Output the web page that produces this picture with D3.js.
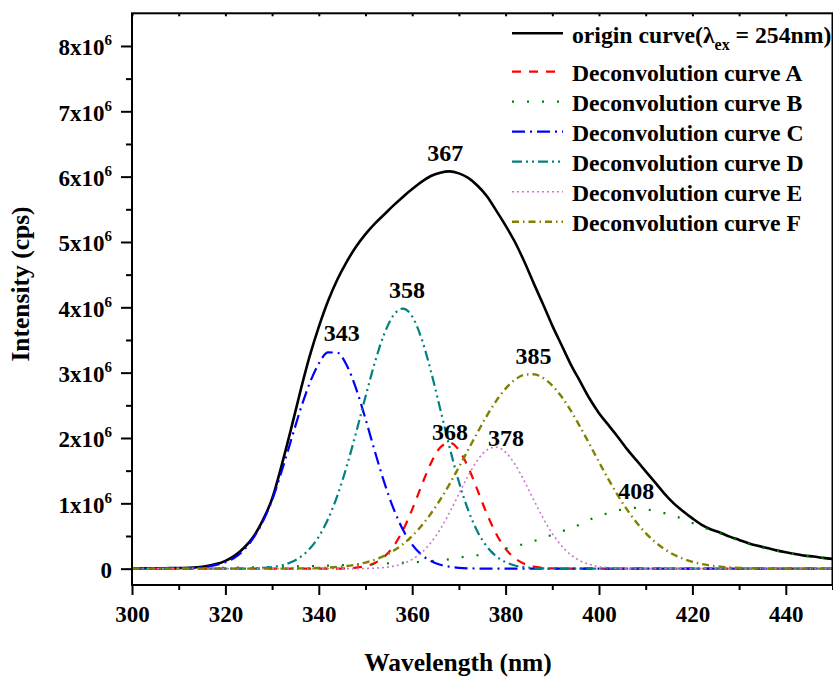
<!DOCTYPE html>
<html>
<head>
<meta charset="utf-8">
<script src="https://cdnjs.cloudflare.com/ajax/libs/d3/7.8.5/d3.min.js"></script>
<style>
  body { margin: 0; background: #fff; }
  svg { display: block; }
</style>
</head>
<body>
<svg id="chart" width="833" height="677"></svg>
<script>
// wavelength grid (nm), values in units of 10^6 cps
const wavelength = [300,302,304,306,308,310,312,314,316,318,320,322,324,326,328,330,332,334,336,338,
  340,342,344,346,348,350,352,354,356,358,360,362,364,366,368,370,372,374,376,378,
  380,382,384,386,388,390,392,394,396,398,400,402,404,406,408,410,412,414,416,418,
  420,422,424,426,428,430,432,434,436,438,440,442,444,446,448,450];

const originCurve = [0.005,0.005,0.006,0.007,0.008,0.010,0.014,0.022,0.04,0.07,0.12,0.20,0.32,0.49,0.74,1.07,1.57,2.12,2.70,3.24,
  3.70,4.10,4.43,4.70,4.93,5.12,5.28,5.42,5.56,5.69,5.81,5.92,6.01,6.06,6.08,6.05,5.98,5.86,5.70,5.48,
  5.25,5.00,4.70,4.37,4.05,3.72,3.42,3.12,2.86,2.60,2.38,2.20,2.02,1.83,1.66,1.49,1.32,1.15,1.00,0.88,
  0.77,0.67,0.60,0.55,0.49,0.44,0.39,0.35,0.315,0.28,0.25,0.225,0.20,0.185,0.165,0.15];

const curveA = [0,0,0,0,0,0,0,0,0,0,0,0,0,0,0,0,0,0,0,0,
  0,0,0,0.005,0.015,0.038,0.087,0.182,0.343,0.586,0.907,1.272,1.614,1.854,1.929,1.817,1.551,1.198,0.838,0.531,
  0.304,0.158,0.074,0.032,0.012,0.004,0,0,0,0,0,0,0,0,0,0,0,0,0,0,
  0,0,0,0,0,0,0,0,0,0,0,0,0,0,0,0];

const curveB = [0,0,0,0,0.005,0.005,0.008,0.01,0.01,0.012,0.014,0.016,0.018,0.02,0.022,0.025,0.028,0.031,0.035,0.039,
  0.043,0.047,0.052,0.057,0.062,0.067,0.072,0.078,0.084,0.09,0.097,0.105,0.115,0.128,0.145,0.168,0.19,0.205,0.23,0.27,
  0.31,0.34,0.38,0.42,0.47,0.52,0.57,0.62,0.68,0.75,0.81,0.85,0.89,0.92,0.93,0.91,0.88,0.85,0.81,0.76,
  0.70,0.64,0.59,0.54,0.48,0.43,0.38,0.34,0.305,0.275,0.245,0.22,0.20,0.18,0.165,0.15];

const curveC = [0,0,0,0,0,0.003,0.007,0.015,0.030,0.058,0.10,0.17,0.29,0.47,0.72,1.05,1.48,1.95,2.42,2.83,
  3.14,3.31,3.305,3.109,2.753,2.292,1.796,1.324,0.919,0.600,0.368,0.213,0.116,0.059,0.029,0.013,0.005,0.002,0,0,
  0,0,0,0,0,0,0,0,0,0,0,0,0,0,0,0,0,0,0,0,
  0,0,0,0,0,0,0,0,0,0,0,0,0,0,0,0];

const curveD = [0,0,0,0,0,0,0,0,0,0,0,0,0,0.005,0.012,0.025,0.051,0.097,0.175,0.301,
  0.491,0.762,1.123,1.571,2.087,2.633,3.155,3.590,3.879,3.98,3.860,3.523,3.025,2.444,1.857,1.328,0.893,0.565,0.337,0.189,
  0.100,0.049,0.023,0.010,0.004,0,0,0,0,0,0,0,0,0,0,0,0,0,0,0,
  0,0,0,0,0,0,0,0,0,0,0,0,0,0,0,0];

const curveE = [0,0,0,0,0,0,0,0,0,0,0,0,0,0,0,0,0,0,0,0,
  0,0,0,0,0,0.003,0.008,0.018,0.039,0.077,0.142,0.245,0.398,0.604,0.859,1.143,1.424,1.662,1.816,1.859,
  1.781,1.598,1.342,1.056,0.778,0.537,0.347,0.210,0.119,0.063,0.031,0.014,0.006,0,0,0,0,0,0,0,
  0,0,0,0,0,0,0,0,0,0,0,0,0,0,0,0];

const curveF = [0,0,0,0,0,0,0,0,0,0,0,0,0,0,0,0,0,0.002,0.004,0.006,
  0.010,0.016,0.026,0.040,0.062,0.093,0.136,0.195,0.273,0.374,0.501,0.657,0.842,1.056,1.295,1.553,1.821,2.088,2.342,2.569,
  2.756,2.891,2.966,2.976,2.920,2.802,2.630,2.414,2.166,1.902,1.632,1.370,1.125,0.904,0.710,0.545,0.409,0.301,0.216,0.152,
  0.104,0.070,0.046,0.030,0.019,0.011,0.007,0.004,0.002,0,0,0,0,0,0,0];

const seriesNames = ['origin curve', 'Deconvolution curve A', 'Deconvolution curve B', 'Deconvolution curve C',
  'Deconvolution curve D', 'Deconvolution curve E', 'Deconvolution curve F'];
const seriesValues = [originCurve, curveA, curveB, curveC, curveD, curveE, curveF];

const xTicks = [300, 320, 340, 360, 380, 400, 420, 440];
const xMinorTicks = [310, 330, 350, 370, 390, 410, 430, 450];
const yTicks = [0, 1, 2, 3, 4, 5, 6, 7, 8];
const yMinorTicks = [0.5, 1.5, 2.5, 3.5, 4.5, 5.5, 6.5, 7.5];

// peak annotations: text, wavelength and value where the label sits
const peakText = ['367', '358', '343', '385', '368', '378', '408'];
const peakAtX = [367.1, 358.9, 344.9, 386.0, 368.1, 380.1, 408.0];
const peakAtY = [6.24, 4.15, 3.49, 3.13, 1.97, 1.88, 1.06];

// styles
const FONT = "'Liberation Serif', 'Times New Roman', Times, 'DejaVu Serif', serif";
const styles = [
  { color: '#000000', dash: null, width: 2.6 },
  { color: '#ff0000', dash: '9,8', width: 2.2 },
  { color: '#008000', dash: '2,13', width: 2.2 },
  { color: '#0000ff', dash: '13,5,2,5', width: 2.2 },
  { color: '#008080', dash: '10,4,2,4,2,4', width: 2.2 },
  { color: '#cc77cc', dash: '2,3', width: 1.6 },
  { color: '#808000', dash: '7,4,1.5,4', width: 2.4 }
];

const svg = d3.select('#chart');
const plotLeft = 132, plotRight = 832.5, plotTop = 13.3, plotBottom = 585;

const x = d3.scaleLinear().domain([300, 450]).range([plotLeft, plotRight]);
const y = d3.scaleLinear().domain([-0.25, 8.5]).range([plotBottom, plotTop]);

svg.append('defs').append('clipPath').attr('id', 'plot-clip')
  .append('rect')
  .attr('x', plotLeft).attr('y', plotTop)
  .attr('width', plotRight - plotLeft).attr('height', plotBottom - plotTop);

const line = d3.line()
  .x(d => x(d[0]))
  .y(d => y(d[1]))
  .curve(d3.curveMonotoneX);

const curves = svg.append('g').attr('clip-path', 'url(#plot-clip)');
seriesValues.forEach((vals, i) => {
  const pts = wavelength.map((w, j) => [w, vals[j]]);
  curves.append('path')
    .datum(pts)
    .attr('d', line)
    .attr('fill', 'none')
    .attr('stroke', styles[i].color)
    .attr('stroke-width', styles[i].width)
    .attr('stroke-dasharray', styles[i].dash);
});

// frame
svg.append('rect')
  .attr('x', plotLeft).attr('y', plotTop)
  .attr('width', plotRight - plotLeft).attr('height', plotBottom - plotTop)
  .attr('fill', 'none')
  .attr('stroke', '#000')
  .attr('stroke-width', 2);

// bottom axis
const xAxis = svg.append('g')
  .attr('transform', `translate(0,${plotBottom})`)
  .call(d3.axisBottom(x).tickValues(xTicks).tickSize(10).tickPadding(11).tickFormat(d3.format('d')));
svg.append('g')
  .attr('transform', `translate(0,${plotBottom})`)
  .call(d3.axisBottom(x).tickValues(xMinorTicks).tickSize(5).tickFormat(''));

// top ticks (inward)
svg.append('g')
  .attr('transform', `translate(0,${plotTop})`)
  .call(d3.axisTop(x).tickValues(xTicks.concat(xMinorTicks)).tickSize(-3).tickFormat(''));

// left axis
const yAxis = svg.append('g')
  .attr('transform', `translate(${plotLeft},0)`)
  .call(d3.axisLeft(y).tickValues(yTicks).tickSize(11).tickPadding(9).tickFormat(''));
svg.append('g')
  .attr('transform', `translate(${plotLeft},0)`)
  .call(d3.axisLeft(y).tickValues(yMinorTicks).tickSize(6).tickFormat(''));

svg.selectAll('.domain').remove();
svg.selectAll('.tick line').attr('stroke', '#000').attr('stroke-width', 2);

xAxis.selectAll('.tick text')
  .style('font-size', '23px');

yAxis.selectAll('.tick text')
  .attr('dy', '0.38em')
  .style('font-size', '23px')
  .each(function(d) {
    const t = d3.select(this);
    if (d === 0) { t.text('0'); return; }
    t.text(null);
    t.append('tspan').text(`${d}x10`);
    t.append('tspan').attr('dy', -10).style('font-size', '15px').text('6');
  });

// axis titles
svg.append('text')
  .attr('x', 458).attr('y', 671)
  .attr('text-anchor', 'middle')
  .style('font-size', '25.5px')
  .text('Wavelength (nm)');

svg.append('text')
  .attr('transform', 'translate(29,284) rotate(-90)')
  .attr('text-anchor', 'middle')
  .style('font-size', '25.5px')
  .text('Intensity (cps)');

// peak labels
peakText.forEach((t, i) => {
  svg.append('text')
    .attr('x', x(peakAtX[i]))
    .attr('y', y(peakAtY[i]))
    .attr('text-anchor', 'middle')
    .style('font-size', '24px')
    .text(t);
});

// legend
const legend = svg.append('g');
const legendRowY = i => (i === 0 ? 33.3 : 71.7 + (i - 1) * 30);
seriesNames.forEach((name, i) => {
  const ry = legendRowY(i);
  legend.append('line')
    .attr('x1', 512).attr('x2', 563)
    .attr('y1', ry).attr('y2', ry)
    .attr('stroke', styles[i].color)
    .attr('stroke-width', styles[i].width)
    .attr('stroke-dasharray', styles[i].dash);
  const txt = legend.append('text')
    .attr('x', 572).attr('y', ry + 9.3)
    .style('font-size', '23.7px');
  if (i === 0) {
    txt.append('tspan').text(name + '(\u03bb');
    txt.append('tspan').attr('dy', 7).style('font-size', '16px').text('ex');
    txt.append('tspan').attr('dy', -7).text(' = 254nm)');
  } else {
    txt.text(name);
  }
});

// serif bold on every text
svg.selectAll('g').attr('font-family', null).attr('font-size', null);
svg.selectAll('text')
  .style('font-family', FONT)
  .style('font-weight', 'bold')
  .attr('fill', '#000');
</script>
</body>
</html>
